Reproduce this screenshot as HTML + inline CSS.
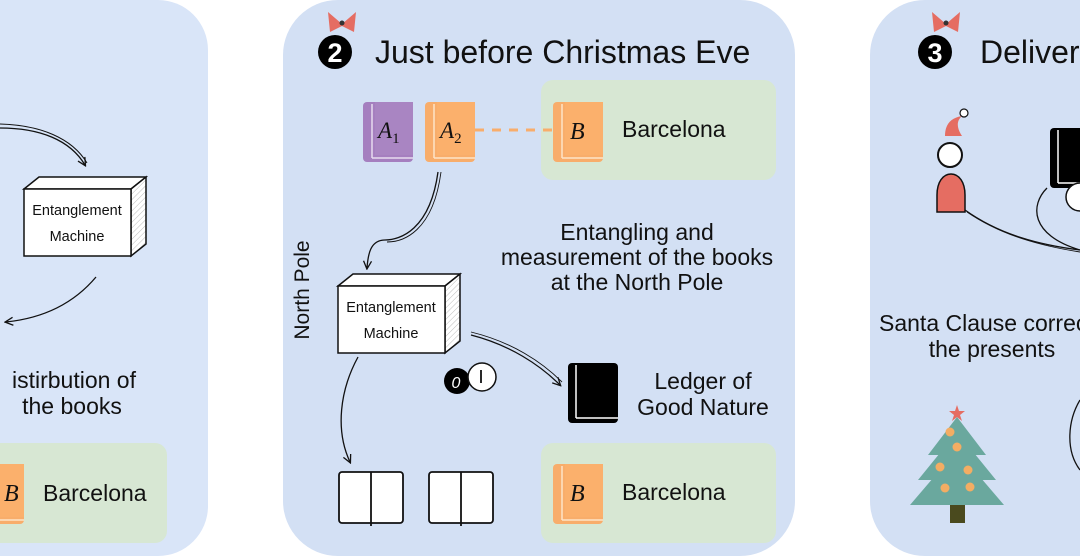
<!DOCTYPE html>
<html><head><meta charset="utf-8"><style>
html,body{margin:0;padding:0;background:#fff;}
svg{display:block;font-family:"Liberation Sans",sans-serif;}
</style></head><body>
<svg width="1080" height="558" viewBox="0 0 1080 558" xmlns="http://www.w3.org/2000/svg">
<defs>
<pattern id="hatch" width="4" height="4" patternUnits="userSpaceOnUse" patternTransform="rotate(45)">
<rect width="4" height="4" fill="#fff"/><line x1="0" y1="0" x2="0" y2="4" stroke="#bbb" stroke-width="1"/></pattern>
<marker id="ar" markerWidth="10" markerHeight="10" refX="8" refY="5" orient="auto" markerUnits="userSpaceOnUse">
<path d="M1,1 L9,5 L1,9" fill="none" stroke="#111" stroke-width="1.3"/></marker>
<g id="bookO">
<rect x="0" y="0" width="50" height="60" rx="4" fill="#f8ad6b"/>
<rect x="12" y="0" width="38" height="53" fill="#fbb06c"/>
<line x1="9" y1="2" x2="9" y2="56" stroke="#fde3c8" stroke-width="1.5"/>
<line x1="9" y1="56" x2="50" y2="56" stroke="#fde3c8" stroke-width="1.5"/>
</g>
<g id="bookP">
<rect x="0" y="0" width="50" height="60" rx="4" fill="#a57fbf"/>
<rect x="12" y="0" width="38" height="53" fill="#a985c2"/>
<line x1="9" y1="2" x2="9" y2="56" stroke="#e6dcef" stroke-width="1.5"/>
<line x1="9" y1="56" x2="50" y2="56" stroke="#e6dcef" stroke-width="1.5"/>
</g>
<g id="bookK">
<rect x="0" y="0" width="50" height="60" rx="4" fill="#000"/>
<line x1="8" y1="2" x2="8" y2="55" stroke="#fff" stroke-width="1.5"/>
<line x1="8" y1="55" x2="50" y2="55" stroke="#fff" stroke-width="1.5"/>
</g>
<g id="box">
<path d="M0,12 L15,0 L122,0 L107,12 Z" fill="#fff" stroke="#111" stroke-width="1.5"/>
<path d="M107,12 L122,0 L122,67 L107,79 Z" fill="url(#hatch)" stroke="#111" stroke-width="1.5"/>
<rect x="0" y="12" width="107" height="67" fill="#fff" stroke="#111" stroke-width="1.5"/>
<text x="53" y="38" font-size="14.5" text-anchor="middle" fill="#111">Entanglement</text>
<text x="53" y="64" font-size="14.5" text-anchor="middle" fill="#111">Machine</text>
</g>
<g id="bow"><path d="M-14,-12 L0,0 L14,-12 L12,8 L0,2 L-12,8 Z" fill="#e56d62"/><circle cx="0" cy="-1" r="2.5" fill="#333"/></g>
</defs>

<rect x="-80" y="0" width="288" height="556" rx="50" fill="#d9e5f8"/>
<rect x="283" y="0" width="512" height="556" rx="55" fill="#d3e0f4"/>
<rect x="870" y="0" width="300" height="556" rx="55" fill="#d3e0f4"/>

<!-- panel 1 -->
<path d="M0,128 C40,128 70,140 85,165" fill="none" stroke="#111" stroke-width="1.3" marker-end="url(#ar)"/>
<path d="M0,124 C40,125 72,138 87,163" fill="none" stroke="#111" stroke-width="1"/>
<use href="#box" x="24" y="177"/>
<path d="M96,277 C75,302 45,318 6,322" fill="none" stroke="#111" stroke-width="1.3" marker-end="url(#ar)"/>
<text x="136" y="388" font-size="23" text-anchor="end" fill="#111">istirbution of</text>
<text x="72" y="414" font-size="23" text-anchor="middle" fill="#111">the books</text>
<rect x="-40" y="443" width="207" height="100" rx="12" fill="#d7e7d3"/>
<use href="#bookO" x="-26" y="464"/>
<text x="4" y="501" font-size="24" font-style="italic" font-family="Liberation Serif,serif" fill="#111">B</text>
<text x="43" y="501" font-size="23" fill="#111">Barcelona</text>

<!-- panel 2 -->
<circle cx="335" cy="52" r="17" fill="#000"/>
<text x="335" y="62" font-size="27" font-weight="bold" text-anchor="middle" fill="#fff">2</text>
<use href="#bow" x="342" y="24"/>
<text x="375" y="63" font-size="32" fill="#111">Just before Christmas Eve</text>
<rect x="541" y="80" width="235" height="100" rx="12" fill="#d7e7d3"/>
<use href="#bookP" x="363" y="102"/>
<use href="#bookO" x="425" y="102"/>
<use href="#bookO" x="553" y="102"/>
<line x1="475" y1="130" x2="553" y2="130" stroke="#f8ad6b" stroke-width="3" stroke-dasharray="9,8"/>
<text x="378" y="138" font-size="23" font-style="italic" font-family="Liberation Serif,serif" fill="#111">A<tspan font-size="15" font-style="normal" dy="5">1</tspan></text>
<text x="440" y="138" font-size="23" font-style="italic" font-family="Liberation Serif,serif" fill="#111">A<tspan font-size="15" font-style="normal" dy="5">2</tspan></text>
<text x="570" y="139" font-size="24" font-style="italic" font-family="Liberation Serif,serif" fill="#111">B</text>
<text x="622" y="137" font-size="23" fill="#111">Barcelona</text>
<path d="M438,172 C430,230 400,240 385,240 C370,240 368,255 367,268" fill="none" stroke="#111" stroke-width="1.3" marker-end="url(#ar)"/>
<path d="M441,172 C433,232 403,242 387,242" fill="none" stroke="#111" stroke-width="0.9"/>
<text transform="translate(309,290) rotate(-90)" font-size="21" text-anchor="middle" fill="#111">North Pole</text>
<text x="637" y="240" font-size="23" text-anchor="middle" fill="#111">Entangling and</text>
<text x="637" y="265" font-size="23" text-anchor="middle" fill="#111">measurement of the books</text>
<text x="637" y="290" font-size="23" text-anchor="middle" fill="#111">at the North Pole</text>
<use href="#box" x="338" y="274"/>
<path d="M471,335 C510,345 540,365 560,385" fill="none" stroke="#111" stroke-width="1.3" marker-end="url(#ar)"/>
<path d="M471,332 C512,342 542,362 562,382" fill="none" stroke="#111" stroke-width="0.9"/>
<path d="M358,357 C340,390 335,430 350,462" fill="none" stroke="#111" stroke-width="1.3" marker-end="url(#ar)"/>
<circle cx="457" cy="381" r="13" fill="#000"/>
<text x="456" y="388" font-size="16" font-style="italic" text-anchor="middle" fill="#fff">0</text>
<circle cx="482" cy="377" r="14" fill="#fff" stroke="#111" stroke-width="1.5"/>
<line x1="481" y1="370" x2="481" y2="383" stroke="#111" stroke-width="1.8"/>
<use href="#bookK" x="568" y="363"/>
<text x="703" y="389" font-size="23" text-anchor="middle" fill="#111">Ledger of</text>
<text x="703" y="415" font-size="23" text-anchor="middle" fill="#111">Good Nature</text>
<g fill="#fff" stroke="#111" stroke-width="1.8">
<rect x="339" y="472" width="64" height="51" rx="3"/><line x1="371" y1="472" x2="371" y2="526"/>
<rect x="429" y="472" width="64" height="51" rx="3"/><line x1="461" y1="472" x2="461" y2="526"/>
</g>
<rect x="541" y="443" width="235" height="100" rx="12" fill="#d7e7d3"/>
<use href="#bookO" x="553" y="464"/>
<text x="570" y="501" font-size="24" font-style="italic" font-family="Liberation Serif,serif" fill="#111">B</text>
<text x="622" y="500" font-size="23" fill="#111">Barcelona</text>

<!-- panel 3 -->
<circle cx="935" cy="52" r="17" fill="#000"/>
<text x="935" y="62" font-size="27" font-weight="bold" text-anchor="middle" fill="#fff">3</text>
<use href="#bow" x="946" y="24"/>
<text x="980" y="63" font-size="32" fill="#111">Deliver</text>
<path d="M945,136 C945,125 950,118 962,116 C955,122 958,130 962,136 Z" fill="#e56d62"/>
<circle cx="964" cy="113" r="4" fill="#fff" stroke="#111" stroke-width="1.2"/>
<circle cx="950" cy="155" r="12" fill="#fff" stroke="#111" stroke-width="2"/>
<path d="M937,212 L937,195 C937,182 943,174 951,174 C959,174 965,182 965,195 L965,212 Z" fill="#e56d62" stroke="#111" stroke-width="1.5"/>
<path d="M965,210 C1000,235 1040,245 1080,250" fill="none" stroke="#111" stroke-width="1.3"/>
<path d="M967,212 C1002,236 1042,246 1080,252" fill="none" stroke="#111" stroke-width="0.9"/>
<use href="#bookK" x="1050" y="128"/>
<circle cx="1080" cy="197" r="14" fill="#fff" stroke="#111" stroke-width="1.5"/>
<path d="M1047,188 C1030,205 1030,235 1080,250" fill="none" stroke="#111" stroke-width="1.3"/>
<text x="879" y="331" font-size="23" fill="#111">Santa Clause correc</text>
<text x="992" y="357" font-size="23" text-anchor="middle" fill="#111">the presents</text>
<path d="M1080,400 C1068,420 1065,450 1080,470" fill="none" stroke="#111" stroke-width="1.3"/>
<g fill="#6aa89e">
<polygon points="957,417 928,455 986,455"/>
<polygon points="957,432 918,480 996,480"/>
<polygon points="957,450 910,505 1004,505"/>
</g>
<rect x="950" y="505" width="15" height="18" fill="#4a4a1e"/>
<polygon points="957,405 959,411 965,411 960,415 962,421 957,417 952,421 954,415 949,411 955,411" fill="#e56d62"/>
<g fill="#f3ad63"><circle cx="950" cy="432" r="4.5"/><circle cx="957" cy="447" r="4.5"/><circle cx="940" cy="467" r="4.5"/><circle cx="968" cy="470" r="4.5"/><circle cx="945" cy="488" r="4.5"/><circle cx="970" cy="487" r="4.5"/></g>
</svg>
</body></html>
